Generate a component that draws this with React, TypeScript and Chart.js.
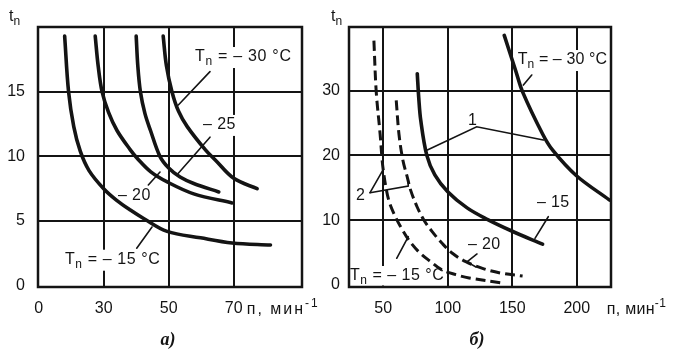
import React, { useEffect, useRef } from "react";
import { Chart, registerables } from "chart.js";

Chart.register(...registerables);

// ---------- panel а): t_n vs n, solid curves for T_n = -15 ... -30 °C ----------
const nA_m15 = [18.0, 19.2, 20.8, 22.8, 25.5, 30.0, 34.0, 38.2, 42.3, 49.5, 59.8, 69.5, 81.3];
const tA_m15 = [19.3, 15.0, 12.3, 10.4, 8.9, 7.5, 6.6, 5.85, 5.2, 4.2, 3.7, 3.3, 3.15];
const nA_m20 = [27.4, 28.3, 29.5, 31.5, 34.1, 38.2, 40.3, 44.5, 49.7, 57.7, 69.5];
const tA_m20 = [19.3, 17.0, 15.0, 13.4, 12.0, 10.5, 9.85, 8.8, 8.0, 7.1, 6.4];
const nA_m25 = [40.0, 40.5, 41.3, 42.7, 44.4, 47.3, 50.0, 53.5, 57.7, 65.4];
const tA_m25 = [19.3, 17.0, 15.0, 13.3, 12.0, 10.0, 9.1, 8.4, 7.9, 7.25];
const nA_m30 = [48.3, 49.3, 51.0, 53.0, 55.7, 61.3, 64.4, 70.0, 77.2];
const tA_m30 = [19.3, 17.0, 15.0, 13.5, 12.3, 10.5, 9.7, 8.3, 7.5];

const xTicksA = [10, 30, 50, 70];
const xTickLabelsA = ["0", "30", "50", "70"];
const yTicksA = [0, 5, 10, 15];
const yTickLabelsA = ["0", "5", "10", "15"];

// ---------- panel б): curves 1 (solid) and 2 (dashed) ----------
const nB_1_m30 = [143.8, 152.6, 158.0, 173.5, 181.3, 199.5, 225.4];
const tB_1_m30 = [38.5, 33.1, 29.8, 23.3, 20.8, 16.9, 13.1];
const nB_1_m15 = [76.4, 77.5, 79.1, 83.8, 90.0, 100.0, 115.0, 131.0, 150.0, 173.5];
const tB_1_m15 = [32.6, 29.0, 25.4, 20.0, 17.0, 14.4, 11.9, 10.1, 8.3, 6.3];
const nB_2_m15 = [42.8, 44.6, 47.6, 49.2, 50.2, 51.9, 54.4, 58.3, 63.5, 70.0, 77.7, 86.8, 95.8, 106.3, 116.6, 142.5];
const tB_2_m15 = [37.7, 29.8, 23.3, 19.2, 17.5, 15.3, 13.0, 11.0, 9.0, 6.9, 5.1, 3.6, 2.3, 1.6, 1.1, 0.3];
const nB_2_m20 = [60.1, 62.2, 65.3, 68.6, 71.3, 76.4, 81.6, 88.1, 95.8, 103.6, 114.0, 128.0, 142.5, 158.0];
const tB_2_m20 = [28.5, 23.3, 19.2, 16.7, 14.6, 12.0, 10.0, 8.2, 6.4, 4.9, 3.6, 2.5, 1.8, 1.4];

const xTicksB = [50, 100, 150, 200];
const xTickLabelsB = ["50", "100", "150", "200"];
const yTicksB = [0, 10, 20, 30];
const yTickLabelsB = ["0", "10", "20", "30"];

// ---------- styling ----------
const INK = "#141414";
const SANS = '"Liberation Sans", Arial, Helvetica, sans-serif';
const SERIF = '"Liberation Serif", "Times New Roman", serif';
const FS = 16;
const FS_SMALL = 12;

type Seg = { t: string; sub?: boolean; sup?: boolean };
type Note = { x: number; y: number; segs: Seg[]; bg?: boolean; ls?: number };
type Series = { n: number[]; t: number[]; dashed: boolean };
type PanelCfg = {
  series: Series[];
  xMin: number; xMax: number; yMin: number; yMax: number;
  xTicks: number[]; xLabels: string[]; yTicks: number[]; yLabels: string[];
  yAxisW: number; padRight: number; yTickPad: number;
  notes: Note[]; leaders: number[][][];
  tLabelX: number; titleX: number; titleLs: number; letter: string; letterX: number;
};

const Tn = (rest: string): Seg[] => [{ t: "T" }, { t: "n", sub: true }, { t: rest }];

const panelA: PanelCfg = {
  series: [
    { n: nA_m15, t: tA_m15, dashed: false },
    { n: nA_m20, t: tA_m20, dashed: false },
    { n: nA_m25, t: tA_m25, dashed: false },
    { n: nA_m30, t: tA_m30, dashed: false },
  ],
  xMin: 9.8, xMax: 91, yMin: -0.1, yMax: 20,
  xTicks: xTicksA, xLabels: xTickLabelsA, yTicks: yTicksA, yLabels: yTickLabelsA,
  yAxisW: 38, padRight: 38, yTickPad: 13,
  notes: [
    { x: 58.1, y: 17.37, segs: Tn(" = – 30 °C"), bg: true, ls: 0.7 },
    { x: 60.55, y: 12.12, segs: [{ t: "– 25" }], bg: true, ls: 0.4 },
    { x: 34.4, y: 6.63, segs: [{ t: "– 20" }], bg: true, ls: 0.4 },
    { x: 18.1, y: 1.7, segs: Tn(" = – 15 °C"), bg: true, ls: 0.6 },
  ],
  leaders: [
    [[62.7, 16.55], [52.96, 13.97]],
    [[62.7, 11.48], [52.96, 8.69]],
    [[43.73, 7.79], [47.33, 8.79]],
    [[40.16, 2.9], [44.87, 4.54]],
  ],
  tLabelX: 9, titleX: 74.0, titleLs: 2, letter: "а)", letterX: 49.8,
};

const panelB: PanelCfg = {
  series: [
    { n: nB_1_m30, t: tB_1_m30, dashed: false },
    { n: nB_1_m15, t: tB_1_m15, dashed: false },
    { n: nB_2_m15, t: tB_2_m15, dashed: true },
    { n: nB_2_m20, t: tB_2_m20, dashed: true },
  ],
  xMin: 23.5, xMax: 226.5, yMin: -0.3, yMax: 39.8,
  xTicks: xTicksB, xLabels: xTickLabelsB, yTicks: yTicksB, yLabels: yTickLabelsB,
  yAxisW: 49, padRight: 69, yTickPad: 9,
  notes: [
    { x: 154.2, y: 34.09, segs: Tn(" = – 30 °C"), bg: true, ls: 0.1 },
    { x: 115.7, y: 24.69, segs: [{ t: "1" }] },
    { x: 28.9, y: 13.12, segs: [{ t: "2" }] },
    { x: 169.2, y: 12.04, segs: [{ t: "– 15" }], ls: 0.3 },
    { x: 115.7, y: 5.56, segs: [{ t: "– 20" }], ls: 0.3 },
    { x: 24.3, y: 0.78, segs: Tn(" = – 15 °C"), bg: true, ls: 0.5 },
  ],
  leaders: [
    [[165.1, 32.4], [158.6, 30.85]],
    [[84.2, 20.83], [122.4, 24.42], [174.1, 22.37]],
    [[39.8, 14.24], [50.1, 17.85]],
    [[39.8, 14.24], [69.4, 15.28], [69.4, 16.2]],
    [[177.9, 10.54], [167.6, 7.21]],
    [[122.7, 4.79], [114.9, 3.56], [121.9, 2.79]],
    [[60.46, 4.13], [69.45, 7.47]],
  ],
  tLabelX: 31, titleX: 223.2, titleLs: 0.3, letter: "б)", letterX: 122.7,
};

function segFont(s: Seg) {
  return `${s.sub || s.sup ? FS_SMALL : FS}px ${SANS}`;
}
function segsWidth(ctx: CanvasRenderingContext2D, segs: Seg[]) {
  let w = 0;
  for (const s of segs) {
    ctx.font = segFont(s);
    w += ctx.measureText(s.t).width;
  }
  return w;
}
function drawSegs(ctx: CanvasRenderingContext2D, segs: Seg[], x: number, y: number) {
  let cx = x;
  ctx.textAlign = "left";
  ctx.textBaseline = "alphabetic";
  for (const s of segs) {
    ctx.font = segFont(s);
    const dy = s.sub ? 4 : s.sup ? -7 : 0;
    ctx.fillText(s.t, cx, y + dy);
    cx += ctx.measureText(s.t).width;
  }
}
function setLs(ctx: CanvasRenderingContext2D, v: number) {
  (ctx as any).letterSpacing = `${v}px`;
}

function makeOverlay(p: PanelCfg) {
  return {
    id: "overlay",
    beforeDatasetsDraw(chart: any) {
      const { ctx, chartArea: a, scales } = chart;
      ctx.save();
      ctx.beginPath();
      ctx.rect(a.left + 1.5, a.top + 1.5, a.right - a.left - 3, a.bottom - a.top - 3);
      ctx.clip();
      ctx.fillStyle = "#ffffff";
      for (const nt of p.notes) {
        if (!nt.bg) continue;
        setLs(ctx, nt.ls ?? 0);
        const px = scales.x.getPixelForValue(nt.x);
        const py = scales.y.getPixelForValue(nt.y);
        const w = segsWidth(ctx, nt.segs);
        ctx.fillRect(px - 2, py - 14, w + 4, 21);
      }
      setLs(ctx, 0);
      ctx.restore();
    },
    afterDatasetsDraw(chart: any) {
      const { ctx, chartArea: a, scales } = chart;
      const X = (v: number) => scales.x.getPixelForValue(v);
      const Y = (v: number) => scales.y.getPixelForValue(v);
      ctx.save();
      // leader lines
      ctx.strokeStyle = INK;
      ctx.lineWidth = 1.6;
      ctx.lineCap = "round";
      ctx.lineJoin = "miter";
      for (const ld of p.leaders) {
        ctx.beginPath();
        ld.forEach((pt, i) => (i ? ctx.lineTo(X(pt[0]), Y(pt[1])) : ctx.moveTo(X(pt[0]), Y(pt[1]))));
        ctx.stroke();
      }
      // frame
      ctx.lineWidth = 2.5;
      ctx.strokeRect(a.left, a.top, a.right - a.left, a.bottom - a.top);
      // notes
      ctx.fillStyle = INK;
      for (const nt of p.notes) {
        setLs(ctx, nt.ls ?? 0);
        drawSegs(ctx, nt.segs, X(nt.x), Y(nt.y));
      }
      // axis labels
      setLs(ctx, 0);
      drawSegs(ctx, [{ t: "t" }, { t: "n", sub: true }], p.tLabelX, 21);
      setLs(ctx, p.titleLs);
      drawSegs(ctx, [{ t: "п, мин" }, { t: "-1", sup: true }], X(p.titleX), 314);
      setLs(ctx, 0);
      // panel letter
      ctx.font = `bold italic 18px ${SERIF}`;
      ctx.textAlign = "center";
      ctx.textBaseline = "alphabetic";
      ctx.fillText(p.letter, X(p.letterX), 345);
      ctx.restore();
    },
  };
}

function PanelChart({ cfg, left, width }: { cfg: PanelCfg; left: number; width: number }) {
  const ref = useRef<HTMLCanvasElement>(null);
  useEffect(() => {
    const canvas = ref.current!;
    const chart = new Chart(canvas, {
      type: "scatter",
      data: {
        datasets: cfg.series.map((s) => ({
          data: s.n.map((v, i) => ({ x: v, y: s.t[i] })),
          showLine: true,
          borderColor: INK,
          backgroundColor: INK,
          borderWidth: s.dashed ? 3 : 3.6,
          borderDash: s.dashed ? [10, 5] : [],
          borderCapStyle: s.dashed ? "butt" : "round",
          pointRadius: 0,
          pointHoverRadius: 0,
          tension: 0.35,
          fill: false,
        })),
      },
      options: {
        responsive: false,
        animation: false,
        devicePixelRatio: 1,
        events: [],
        layout: { padding: { left: 0, top: 27, right: cfg.padRight, bottom: 0 } },
        plugins: { legend: { display: false }, tooltip: { enabled: false } },
        scales: {
          x: {
            type: "linear",
            min: cfg.xMin,
            max: cfg.xMax,
            afterFit: (s: any) => { s.height = 66; },
            afterBuildTicks: (s: any) => { s.ticks = cfg.xTicks.map((v) => ({ value: v })); },
            ticks: {
              autoSkip: false,
              maxRotation: 0,
              padding: 12,
              color: INK,
              font: { family: SANS, size: FS },
              callback: (v: any) => cfg.xLabels[cfg.xTicks.indexOf(Number(v))] ?? "",
            },
            grid: {
              drawTicks: false,
              lineWidth: 2,
              color: (c: any) => (c.tick && c.tick.value === cfg.xTicks[0] && cfg.xTicks[0] < cfg.xMin + 1 ? "rgba(0,0,0,0)" : INK),
            },
            border: { display: false },
          },
          y: {
            type: "linear",
            min: cfg.yMin,
            max: cfg.yMax,
            afterFit: (s: any) => { s.width = cfg.yAxisW; },
            afterBuildTicks: (s: any) => { s.ticks = cfg.yTicks.map((v) => ({ value: v })); },
            ticks: {
              autoSkip: false,
              padding: cfg.yTickPad,
              color: INK,
              font: { family: SANS, size: FS },
              callback: (v: any) => cfg.yLabels[cfg.yTicks.indexOf(Number(v))] ?? "",
            },
            grid: {
              drawTicks: false,
              lineWidth: 2,
              color: (c: any) => (c.tick && c.tick.value === 0 ? "rgba(0,0,0,0)" : INK),
            },
            border: { display: false },
          },
        },
      } as any,
      plugins: [makeOverlay(cfg)],
    } as any);
    return () => chart.destroy();
  }, [cfg]);
  return (
    <canvas
      ref={ref}
      width={width}
      height={353}
      style={{ position: "absolute", left, top: 0, width, height: 353 }}
    />
  );
}

export default function App() {
  return (
    <div style={{ position: "absolute", left: 0, top: 0, width: 680, height: 353, background: "#ffffff", overflow: "hidden" }}>
      <PanelChart cfg={panelA} left={0} width={340} />
      <PanelChart cfg={panelB} left={300} width={380} />
    </div>
  );
}
